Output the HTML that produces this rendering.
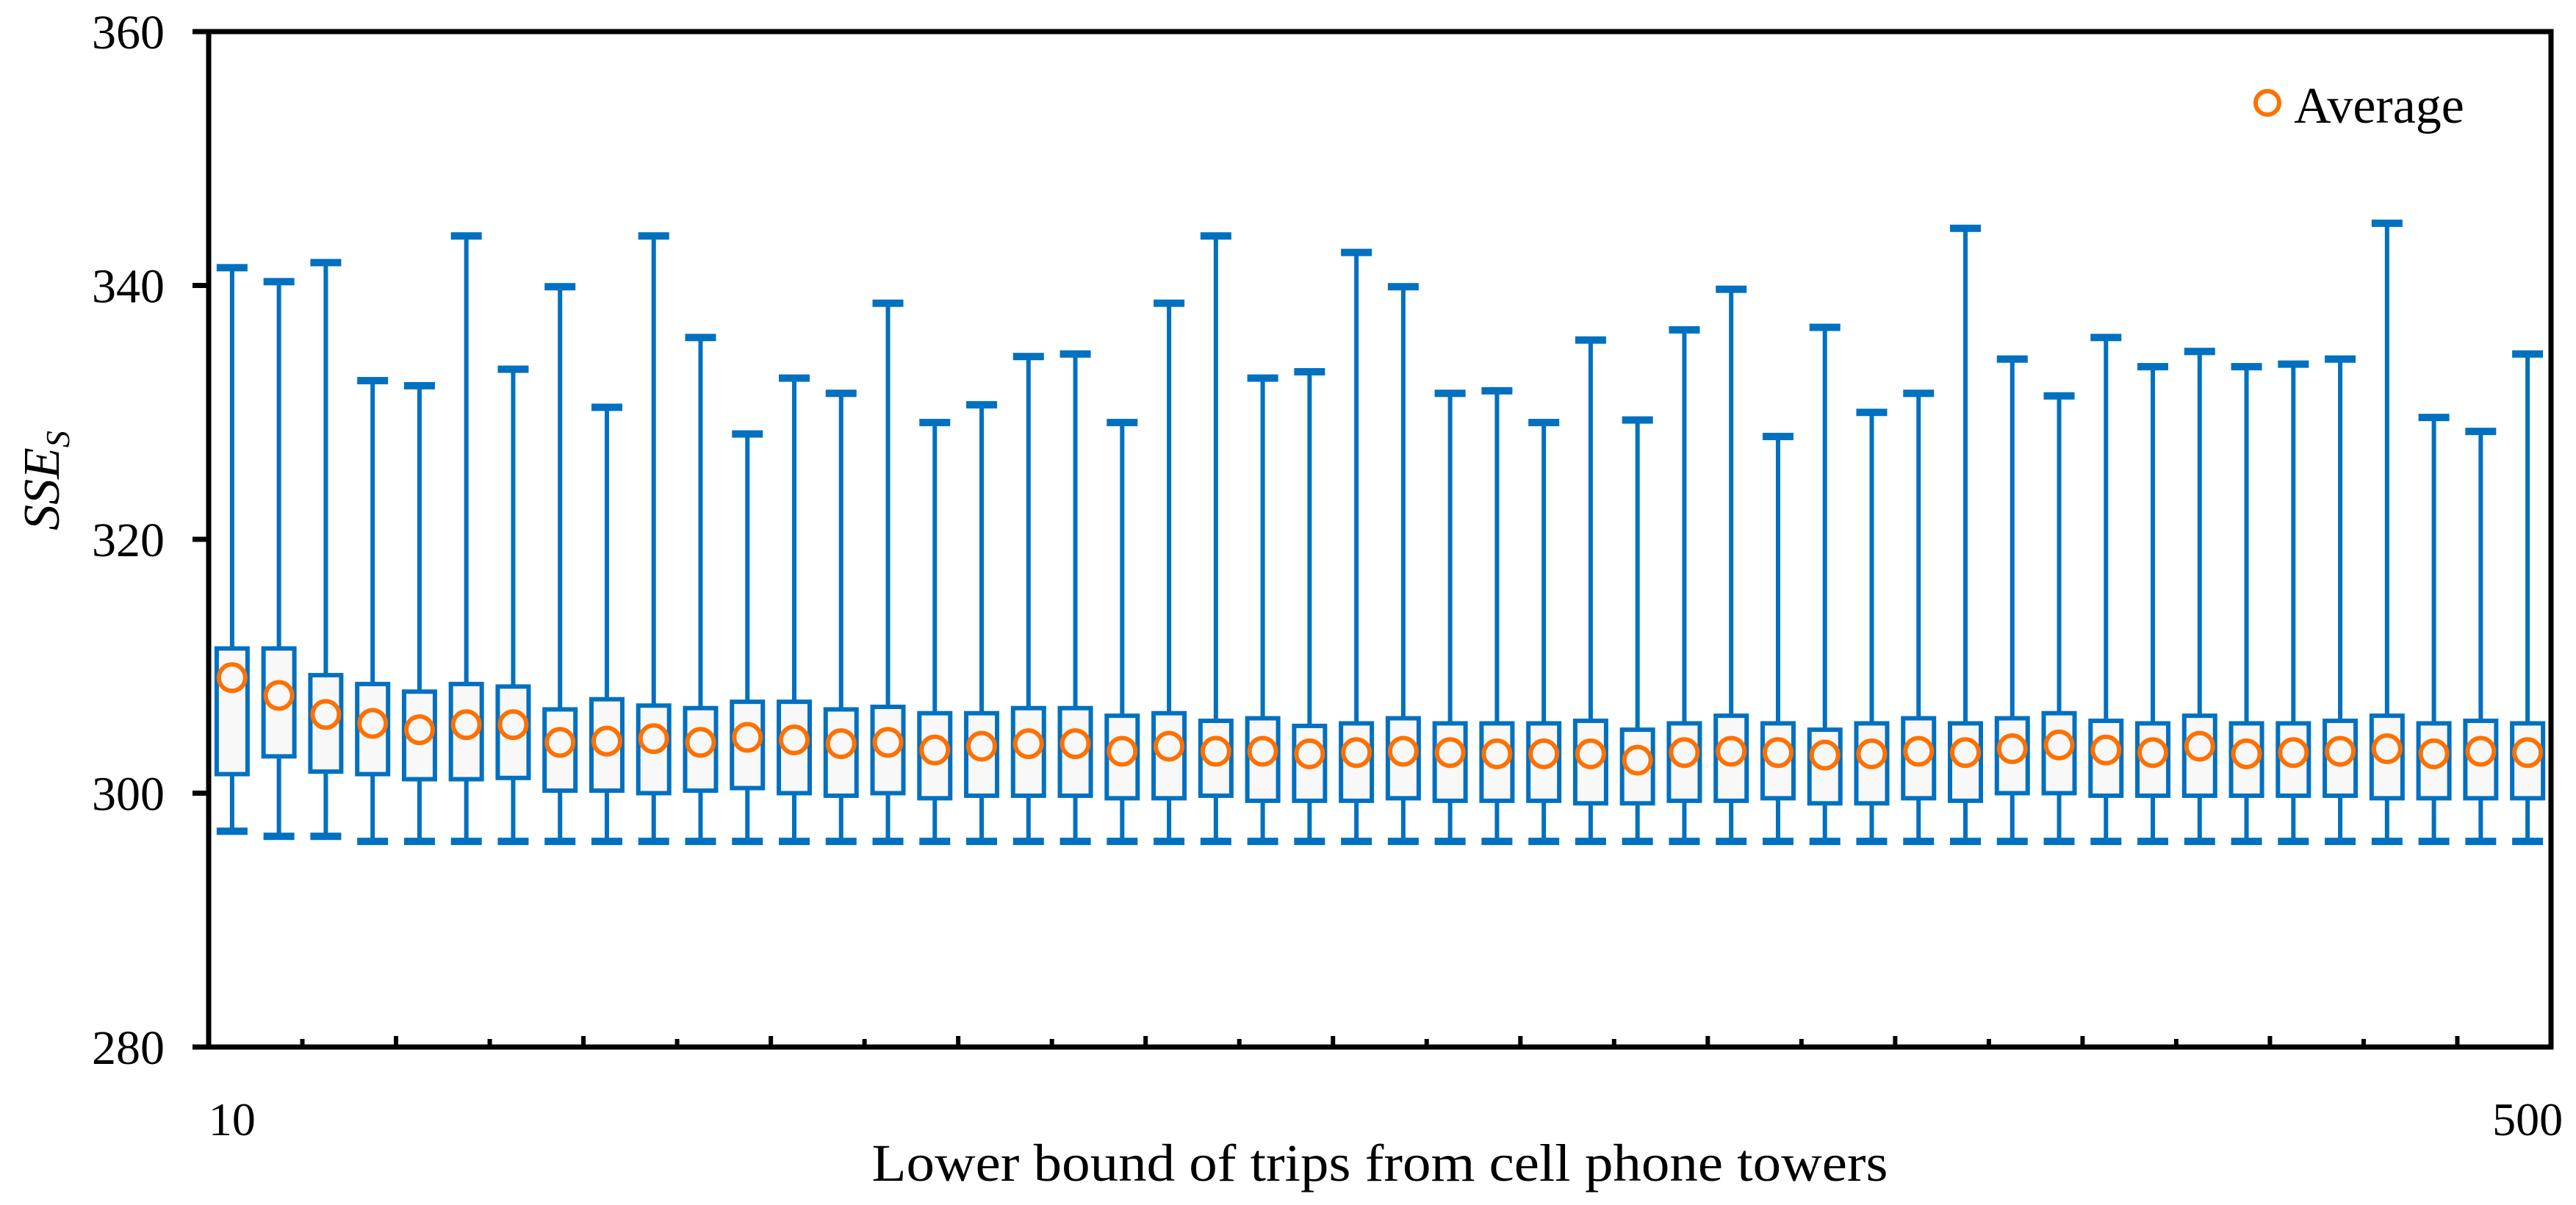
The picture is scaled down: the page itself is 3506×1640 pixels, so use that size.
<!DOCTYPE html>
<html><head><meta charset="utf-8"><style>
html,body{margin:0;padding:0;background:#fff;}
svg{display:block;}
text{font-family:"Liberation Serif",serif;fill:#000;}
</style></head><body>
<svg id="chart" width="3506" height="1640" viewBox="0 0 3506 1640" xmlns="http://www.w3.org/2000/svg">
<g id="plot"></g>
<rect x="284" y="43" width="3188" height="1382" fill="none" stroke="#000" stroke-width="7"/>
<g id="yaxis"></g>
<g id="xaxis"></g>
<text x="1878" y="1607" font-size="72" text-anchor="middle" textLength="1383" lengthAdjust="spacingAndGlyphs">Lower bound of trips from cell phone towers</text>
<text transform="translate(80,654) rotate(-90)" font-size="70" font-style="italic" text-anchor="middle">SSE<tspan font-size="46" dy="14">S</tspan></text>
<g>
<circle cx="3086" cy="140" r="16" fill="none" stroke="#FF7000" stroke-width="6"/>
<text x="3122" y="167" font-size="70">Average</text>
</g>
</svg>
<script>
const whiskerTop=[341.4,340.3,341.8,332.5,332.1,343.9,333.4,339.9,330.4,343.9,335.9,328.3,332.7,331.5,338.6,329.2,330.6,334.4,334.6,329.2,338.6,343.9,332.7,333.2,342.6,339.9,331.5,331.7,329.2,335.7,329.4,336.5,339.7,328.1,336.7,330.0,331.5,344.5,334.2,331.3,335.9,333.6,334.8,333.6,333.8,334.2,344.9,329.6,328.5,334.6];
const q3=[311.4,311.4,309.3,308.6,308.0,308.6,308.4,306.6,307.4,306.9,306.7,307.2,307.2,306.6,306.8,306.3,306.3,306.7,306.7,306.1,306.3,305.7,305.9,305.3,305.5,305.9,305.5,305.5,305.5,305.7,305.0,305.5,306.1,305.5,305.0,305.5,305.9,305.5,305.9,306.3,305.7,305.5,306.1,305.5,305.5,305.7,306.1,305.5,305.7,305.5];
const q1=[301.5,302.9,301.7,301.5,301.1,301.1,301.2,300.2,300.2,300.0,300.2,300.4,300.0,299.8,300.0,299.6,299.8,299.8,299.8,299.6,299.6,299.8,299.4,299.4,299.4,299.6,299.4,299.4,299.4,299.2,299.2,299.4,299.4,299.6,299.2,299.2,299.6,299.4,300.0,300.0,299.8,299.8,299.8,299.8,299.8,299.8,299.6,299.6,299.6,299.6];
const whiskerBottom=[297.0,296.6,296.6,296.2,296.2,296.2,296.2,296.2,296.2,296.2,296.2,296.2,296.2,296.2,296.2,296.2,296.2,296.2,296.2,296.2,296.2,296.2,296.2,296.2,296.2,296.2,296.2,296.2,296.2,296.2,296.2,296.2,296.2,296.2,296.2,296.2,296.2,296.2,296.2,296.2,296.2,296.2,296.2,296.2,296.2,296.2,296.2,296.2,296.2,296.2];
const average=[309.1,307.7,306.2,305.5,305.0,305.4,305.4,304.0,304.1,304.3,304.0,304.4,304.2,303.9,304.0,303.4,303.7,303.9,303.9,303.3,303.7,303.3,303.3,303.1,303.2,303.3,303.2,303.1,303.1,303.1,302.6,303.2,303.3,303.2,303.0,303.1,303.3,303.2,303.5,303.8,303.4,303.2,303.7,303.1,303.2,303.3,303.5,303.1,303.3,303.2];
const yTicks=[280,300,320,340,360];
const xLabels=[{i:0,t:"10"},{i:49,t:"500"}];

const NS="http://www.w3.org/2000/svg";
const X0=284,X1=3472,Y0=43,Y1=1425,VMIN=280,VMAX=360;
const n=whiskerTop.length, band=(X1-X0)/n;
function y(v){return Y0+(VMAX-v)/(VMAX-VMIN)*(Y1-Y0);}
function xc(i){return X0+(i+0.5)*band;}
function mk(tag,attrs,parent){const e=document.createElementNS(NS,tag);for(const k in attrs)e.setAttribute(k,attrs[k]);parent.appendChild(e);return e;}
const plot=document.getElementById('plot');
const BLUE="#0070C0",ORANGE="#FF7000";
for(let i=0;i<n;i++){
  const g=mk('g',{},plot);
  
  
  const cx=xc(i);
  const st=mk('line',{x1:cx,x2:cx,y1:y(whiskerTop[i]),y2:y(whiskerBottom[i]),stroke:BLUE,'stroke-width':6},g);
  
  
  const ct=mk('rect',{x:cx-21,y:y(whiskerTop[i])-5,width:42,height:10,fill:BLUE},g);
  
  
  const cb=mk('rect',{x:cx-21,y:y(whiskerBottom[i])-5,width:42,height:10,fill:BLUE},g);
  
  
  const b=mk('rect',{x:cx-21,y:y(q3[i]),width:42,height:y(q1[i])-y(q3[i]),fill:"#f8f8f8",stroke:BLUE,'stroke-width':6},g);
  
  
  const c=mk('circle',{cx:cx,cy:y(average[i]),r:18,fill:"none",stroke:ORANGE,'stroke-width':6},g);
  
  
}
const ya=document.getElementById('yaxis');
yTicks.forEach(v=>{
  const l=mk('line',{x1:262,x2:284,y1:y(v),y2:y(v),stroke:"#000",'stroke-width':7},ya);
  
  
  const t=mk('text',{x:224,y:y(v)+23,'font-size':66,'text-anchor':'end'},ya);
  t.textContent=v;
  
  
});
const xa=document.getElementById('xaxis');
for(let k=2;k<n;k+=2){
  const xx=X0+k*band, len=(k%4===0)?15:11;
  const l=mk('line',{x1:xx,x2:xx,y1:Y1,y2:Y1-len,stroke:"#000",'stroke-width':6},xa);
  
  
}
xLabels.forEach(o=>{
  const t=mk('text',{x:xc(o.i),y:1545,'font-size':64,'text-anchor':'middle'},xa);
  t.textContent=o.t;
  
  
});
</script>
</body></html>
